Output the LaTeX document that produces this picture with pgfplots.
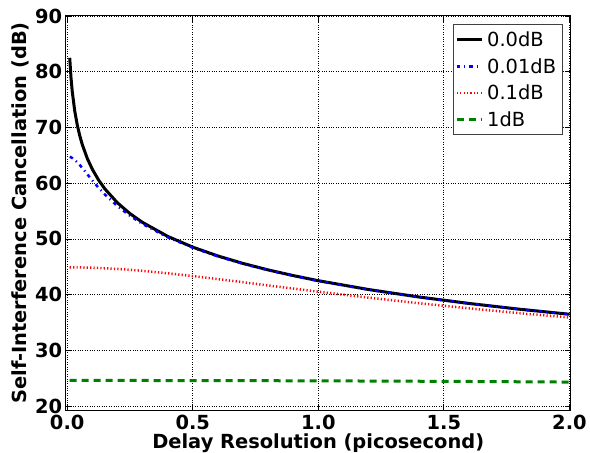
\documentclass[border=0pt]{standalone}
\usepackage{fontspec}
\setmainfont{DejaVu Sans}
\usepackage{pgfplots}
\pgfplotsset{compat=1.18}
\definecolor{mplgreen}{rgb}{0,0.5,0}
\begin{document}
\begin{tikzpicture}
\begin{axis}[
  scale only axis,
  width=505bp, height=394bp,
  xmin=-0.006, xmax=2.005,
  ymin=19.3, ymax=90,
  xtick={0,0.5,...,2.0},
  ytick={20,30,...,90},
  xticklabels={0.0,0.5,1.0,1.5,2.0},
  /pgf/number format/assume math mode=true,
  tick label style={font=\fontsize{19.5}{20}\selectfont\bfseries},
  x tick label style={yshift=-1.5bp},
  label style={font=\fontsize{19.5}{20}\selectfont\bfseries},
  tick align=inside,
  major tick length=6bp,
  tick style={black, line width=0.8bp},
  xtick pos=both, ytick pos=both,
  grid=major,
  major grid style={black, dotted, line width=0.8bp},
  axis line style={black, line width=1bp},
  xlabel={Delay Resolution (picosecond)},
  ylabel={Self-Interference Cancellation (dB)},
  xlabel style={at={(axis description cs:0.5,0)}, anchor=base, yshift=-38bp},
  ylabel style={at={(axis description cs:-0.0905,0.5)}, anchor=center, rotate=0},
  legend style={at={(axis description cs:0.984,0.980)}, anchor=north east,
    draw=black!75, line width=1bp, fill=white, inner sep=2bp,
    font=\fontsize{19.5}{20}\selectfont,
    nodes={text height=14bp, text depth=0bp, inner ysep=6.3bp, inner xsep=4bp}},
  legend cell align=left,
  legend image code/.code={\draw[#1] (0bp,0bp) -- (25bp,0bp);},
]
\addplot[black, line width=3bp] coordinates {
(0.01,82.50) (0.015,78.98) (0.02,76.48) (0.03,72.96) (0.04,70.46) (0.05,68.52)
(0.06,66.94) (0.08,64.44) (0.1,62.50) (0.125,60.56) (0.15,58.98) (0.2,56.48)
(0.25,54.54) (0.3,52.96) (0.4,50.46) (0.5,48.52) (0.6,46.94) (0.7,45.60)
(0.8,44.44) (0.9,43.42) (1.0,42.50) (1.2,40.92) (1.4,39.58) (1.6,38.42)
(1.8,37.39) (2.0,36.48)};
\addlegendentry{0.0dB}
\addplot[blue, line width=2.5bp, dash pattern=on 3.5bp off 4bp on 1.2bp off 4bp] coordinates {
(0.01,64.73) (0.015,64.64) (0.02,64.51) (0.03,64.18) (0.04,63.76) (0.05,63.26)
(0.06,62.73) (0.08,61.61) (0.1,60.49) (0.125,59.17) (0.15,57.97) (0.2,55.88)
(0.25,54.15) (0.3,52.68) (0.4,50.30) (0.5,48.42) (0.6,46.87) (0.7,45.55)
(0.8,44.40) (0.9,43.39) (1.0,42.47) (1.2,40.90) (1.4,39.57) (1.6,38.41)
(1.8,37.38) (2.0,36.47)};
\addlegendentry{0.01dB}
\addplot[red, line width=2.5bp, dash pattern=on 1.2bp off 2.2bp] coordinates {
(0.01,44.90) (0.05,44.88) (0.1,44.83) (0.15,44.73) (0.2,44.61) (0.25,44.45)
(0.3,44.27) (0.4,43.83) (0.5,43.33) (0.6,42.79) (0.7,42.23) (0.8,41.65)
(0.9,41.09) (1.0,40.53) (1.2,39.46) (1.4,38.46) (1.6,37.54) (1.8,36.68)
(2.0,35.90)};
\addlegendentry{0.1dB}
\addplot[mplgreen, line width=3bp, dash pattern=on 7bp off 5bp] coordinates {
(0.01,24.60) (0.25,24.60) (0.5,24.58) (0.75,24.56) (1.0,24.53) (1.25,24.49)
(1.5,24.44) (1.75,24.38) (2.0,24.31)};
\addlegendentry{1dB}
\end{axis}
\pgfresetboundingbox
\useasboundingbox (-65.7bp,-43bp) rectangle (524.3bp,410bp);
\end{tikzpicture}
\end{document}
